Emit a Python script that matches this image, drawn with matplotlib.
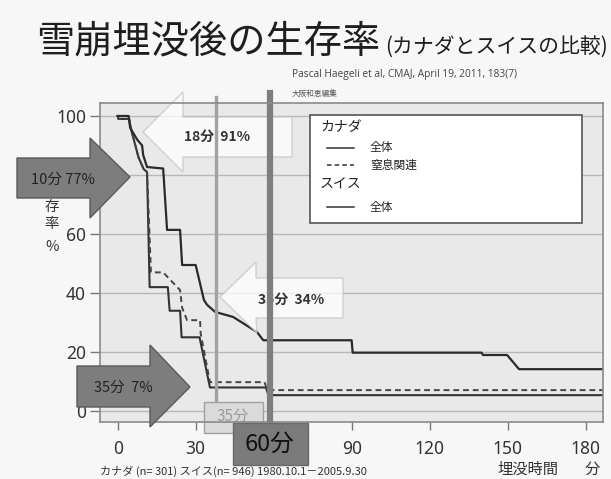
import numpy as np
import matplotlib
matplotlib.use("Agg")
import matplotlib.pyplot as plt
from matplotlib.patches import Polygon, Rectangle
from matplotlib.lines import Line2D

plt.rcParams['font.family'] = ['Noto Sans CJK JP', 'DejaVu Sans']

# survival curves (minutes, %)
canada_t = [0, 0.3, 4.4, 5, 6.5, 8, 10, 11.3, 12.3, 19.3, 20, 24, 24.6, 31.5, 35.5, 57, 58, 187]
canada_v = [100, 99, 99, 96, 91, 86, 82, 81, 42, 42, 34, 34, 25, 25, 8, 8, 5.4, 5.4]

asphyx_t = [0, 0.3, 4.4, 5, 6.5, 8, 10, 11.3, 12.8, 17.5, 24, 24.8, 26.7, 31.7, 31.9, 35.5, 56.5, 57.5, 187]
asphyx_v = [100, 99, 99, 96, 91, 86, 82, 81, 47, 47, 41, 35, 30.8, 30.8, 26.4, 9.8, 9.8, 7.1, 7.1]

swiss_t = [0, 4.2, 4.8, 7.5, 9.4, 9.8, 11.3, 17.5, 19, 24, 24.8, 30, 33.2, 34.4, 37.5, 44.4,
           53.6, 56, 90, 90.4, 140, 140.5, 149.8, 154.4, 187]
swiss_v = [100, 100, 96, 92, 90, 86.8, 82.7, 82.2, 61.4, 61.4, 49.5, 49.5, 37.6, 36, 33.6, 31.9,
           26.8, 24, 24, 19.8, 19.8, 19, 19, 14.2, 14.2]

marker_min = [38, 58.6]          # vertical marker lines (35 / 60 min)
xticks = [0, 30, 60, 90, 120, 150, 180]
xlabels = ['0', '30', '', '90', '120', '150', '180']   # 60 sits under the "60分" box
yticks = [0, 20, 40, 60, 80, 100]
ylabels = ['0', '20', '40', '60', '', '100']            # 80 sits under the arrow

W, H = 611, 479
fig = plt.figure(figsize=(W / 100, H / 100), dpi=100)
fig.patch.set_facecolor('#f7f7f7')
ax = fig.add_axes([100 / W, 1 - 422 / H, 503 / W, 319 / H])
ax.set_facecolor('#e9e9e9')
ax.set_xlim(-6.8, 186.7)
ax.set_ylim(-3.7, 104.4)


def px(x, y):
    return (x / W, 1 - y / H)


FT = fig.transFigure

# grid + spines
ax.set_yticks(yticks)
ax.set_yticklabels(ylabels)
ax.set_xticks(xticks)
ax.set_xticklabels(xlabels)
ax.yaxis.grid(True, color='#b8b8b8', lw=1.0, zorder=0.5)
ax.set_axisbelow(True)
for s in ax.spines.values():
    s.set_color('#8a8a8a')
    s.set_linewidth(1.2)
    s.set_zorder(7)
ax.tick_params(axis='y', direction='out', length=7, width=1, color='#777', labelsize=12.5, pad=3,
               labelcolor='#333')
ax.tick_params(axis='x', direction='out', length=6, width=1, color='#777', labelsize=12.5, pad=7,
               labelcolor='#333')
for lab in ax.get_xticklabels() + ax.get_yticklabels():
    lab.set_family(['Noto Sans', 'DejaVu Sans'])

# curves
ax.plot(canada_t, canada_v, color='#333333', lw=1.5, zorder=2)
ax.plot(asphyx_t, asphyx_v, color='#444444', lw=1.4, ls=(0, (3, 2)), zorder=2)
ax.plot(swiss_t, swiss_v, color='#2a2a2a', lw=1.6, zorder=2)


def poly(pts, **kw):
    p = Polygon([px(*q) for q in pts], closed=True, transform=FT, clip_on=False, **kw)
    ax.add_patch(p)


def label(x, y, s, size, **kw):
    ax.text(*px(x, y), s, transform=FT, fontsize=size, ha='center', va='center', clip_on=False, **kw)


# white (translucent) callouts pointing left
poly([(143, 132), (183, 92), (183, 117), (292, 117), (292, 157), (183, 157), (183, 172)],
     facecolor='white', edgecolor='#c4c4c4', lw=1, alpha=0.75, zorder=3)
label(217, 137, '18分  91%', 10, color='#333', fontweight='bold', zorder=4)
poly([(220, 297), (256, 262), (256, 278), (343, 278), (343, 318), (256, 318), (257, 333)],
     facecolor='white', edgecolor='#c4c4c4', lw=1, alpha=0.75, zorder=3)
label(291, 300, '35分  34%', 10, color='#333', fontweight='bold', zorder=4)

# vertical markers
ax.plot([marker_min[0]] * 2, [106.4, 3.1], color='#a2a2a2', lw=2.4, clip_on=False, zorder=5)
ax.plot([marker_min[1]] * 2, [107.8, -4.5], color='#7e7e7e', lw=4.5, clip_on=False, zorder=5)

# dark arrows pointing right
poly([(17, 158), (90, 158), (90, 138), (130, 177), (90, 218), (90, 198), (17, 198)],
     facecolor='#7d7d7d', edgecolor='#5a5a5a', lw=1, zorder=8)
label(63, 180, '10分 77%', 10.5, color='#222', zorder=9)
poly([(77, 366), (150, 366), (150, 345), (190, 387), (150, 427), (150, 407), (77, 407)],
     facecolor='#7d7d7d', edgecolor='#5a5a5a', lw=1, zorder=8)
label(123, 388, '35分  7%', 10.5, color='#222', zorder=9)

# boxes at the bottom
ax.add_patch(Rectangle(px(204, 433), 59 / W, 31 / H, transform=FT, clip_on=False,
                       facecolor='#dadada', edgecolor='#a0a0a0', lw=1, zorder=6))
label(233, 416, '35分', 11, color='#9c9c9c', zorder=6.5)
ax.add_patch(Rectangle(px(233, 465), 75 / W, 42 / H, transform=FT, clip_on=False,
                       facecolor='#7b7b7b', edgecolor='#6a6a6a', lw=1, zorder=8))
label(270, 444, '60分', 17, color='#111', zorder=9)

# legend (drawn by hand, group headers + samples)
ax.add_patch(Rectangle(px(310, 223), 272 / W, 108 / H, transform=FT, clip_on=False,
                       facecolor='white', edgecolor='#555', lw=1.2, zorder=6))
fig.text(*px(320, 127), 'カナダ', fontsize=10, va='center', color='#222', zorder=10)
fig.text(*px(320, 185), 'スイス', fontsize=10, va='center', color='#222', zorder=10)
for yy, ls, txt in [(148, '-', '全体'), (165, (0, (3, 2)), '窒息関連'), (207, '-', '全体')]:
    fig.add_artist(Line2D([327 / W, 354 / W], [1 - yy / H] * 2, color='#333', lw=1.1, ls=ls,
                          zorder=10))
    fig.text(*px(370, yy), txt, fontsize=8.5, va='center', color='#222', zorder=10)

# y label (the first character sits under the arrow)
for yy, ch in [(207, '存'), (224, '率'), (247, '%')]:
    ax.text(*px(52, yy), ch, transform=FT, fontsize=10.5, ha='center', va='center',
            color='#333', clip_on=False, zorder=1)

# titles / notes
fig.text(*px(36, 42), '雪崩埋没後の生存率', fontsize=27.5, va='center', color='#1e1e1e')
fig.text(*px(385, 47), '(カナダとスイスの比較)', fontsize=15, va='center', color='#1e1e1e')
fig.text(*px(292, 74), 'Pascal Haegeli et al, CMAJ, April 19, 2011, 183(7)', fontsize=7.3,
         va='center', color='#444', family=['Open Sans', 'DejaVu Sans'])
fig.text(*px(292, 94), '大阪和恵編集', fontsize=5.5, va='center', color='#555')
fig.text(*px(497, 469), '埋没時間', fontsize=11, va='center', color='#333')
fig.text(*px(585, 469), '分', fontsize=11, va='center', color='#333')
fig.text(*px(100, 471), 'カナダ (n= 301) スイス(n= 946) 1980.10.1－2005.9.30', fontsize=8,
         va='center', color='#333')

fig.savefig('out.png', dpi=100, facecolor=fig.get_facecolor())
